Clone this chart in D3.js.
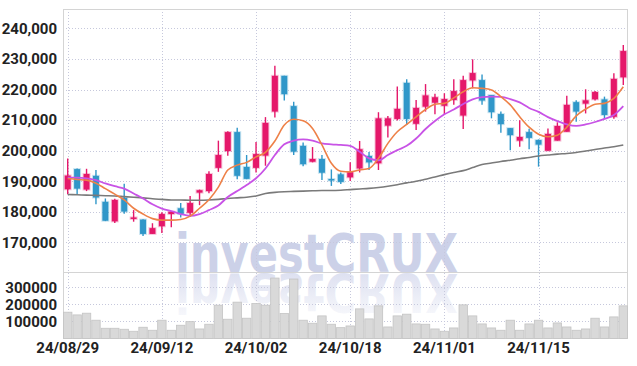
<!DOCTYPE html>
<html>
<head>
<meta charset="utf-8">
<script src="https://cdn.jsdelivr.net/npm/d3@7"></script>
<style>
  body { margin: 0; background: #fff; }
  svg text { font-family: "Liberation Sans Narrow", "Roboto", sans-serif; font-weight: bold; fill: #222; }
</style>
</head>
<body>
<svg id="chart" width="637" height="366"></svg>
<script>
var dates = ['24/08/29','24/08/30','24/09/02','24/09/03','24/09/04','24/09/05','24/09/06','24/09/09','24/09/10','24/09/11',
  '24/09/12','24/09/13','24/09/19','24/09/20','24/09/23','24/09/24','24/09/25','24/09/26','24/09/27','24/09/30',
  '24/10/02','24/10/04','24/10/07','24/10/08','24/10/10','24/10/11','24/10/14','24/10/15','24/10/16','24/10/17',
  '24/10/18','24/10/21','24/10/22','24/10/23','24/10/24','24/10/25','24/10/28','24/10/29','24/10/30','24/10/31',
  '24/11/01','24/11/04','24/11/05','24/11/06','24/11/07','24/11/08','24/11/11','24/11/12','24/11/13','24/11/14',
  '24/11/15','24/11/18','24/11/19','24/11/20','24/11/21','24/11/22','24/11/25','24/11/26','24/11/27','24/11/28']

var open = [187400,194000,187300,191800,183300,176900,184600,177700,177500,172800,
  175300,179300,181200,179700,186300,186800,194400,199900,206100,194700,
  194400,198400,212800,224500,214600,201600,196400,197300,190750,192300,
  191300,194200,198300,195900,208200,210400,222200,208800,214400,215700,
  214700,216600,211500,223000,223100,218200,212000,207400,203300,206100,
  203500,200000,203300,206200,215900,215400,216800,216800,211100,224000]
var high = [197500,194200,194100,193700,184400,184300,189200,180600,177600,176300,
  179900,180300,182900,185200,187300,193300,203300,206400,207500,198600,
  202900,211000,227800,224500,216000,202700,201200,198600,193900,192900,
  196200,203200,199600,212600,211400,221000,223400,216600,221800,218600,
  218800,223400,224500,229900,224900,218200,212800,207400,210000,207200,
  203700,207300,209300,218000,216500,220100,219500,217700,225300,234600]
var low = [185800,185700,186800,182500,177000,176400,179400,176800,172100,172800,
  173100,175000,178200,178300,182200,186100,193100,198400,190700,190700,
  192900,195100,210900,216400,198600,194900,196200,190400,188500,189100,
  190100,192900,193700,193700,204300,209900,208400,206800,212800,211900,
  211900,215000,207100,220400,215000,210600,205900,200200,201300,200500,
  194800,200000,203300,206200,209500,212200,216400,210300,210500,221500]
var close = [191900,187600,192400,184700,177100,183900,180100,178200,172800,174700,
  179300,180100,179300,182900,187100,192400,198600,206100,191800,190800,
  198900,209100,224500,218500,199700,195600,197300,192800,190650,189800,
  193000,200500,196200,210600,210600,213700,210400,214000,218100,217500,
  216900,219500,223100,225400,216400,212600,208700,205100,204500,204200,
  202000,205500,208100,215000,212800,216500,219200,211700,223500,232600]
var volume = [154100,138200,148200,107100,60000,60000,54100,42400,65900,48200,
  107100,48200,77600,98800,55900,83500,195300,112900,212900,118800,
  204700,195300,354100,145900,348200,107100,89400,132400,83500,63500,
  73500,173500,114700,191200,67600,132400,142400,85300,83500,55900,
  42400,61800,197100,132400,85300,61800,48200,107100,48200,85300,
  107100,61800,91200,67600,48200,55900,118800,67600,126500,191200]

// moving averages
var ma5 = [190900,190600,190400,189400,187600,185800,183900,181200,179300,177800,
  177300,177300,177500,178600,181200,184000,188100,193700,195300,196200,
  198000,199500,203200,208400,210300,209800,207300,201900,195900,193300,
  193100,193700,194200,197500,202400,206200,208600,211100,213500,215200,
  215500,217300,219300,220600,220400,219900,217700,215000,211100,207700,
  205400,204600,205100,207700,211400,213600,215200,215500,217100,220900]
var ma20 = [191200,191200,191000,190400,189300,188400,187600,186000,184400,182500,
  181100,180300,179300,178700,179300,180600,182100,184900,186800,188800,
  191000,194200,198600,202100,203300,203700,203300,202400,202100,201900,
  201600,199700,197500,196900,198600,200200,201600,204000,207100,209700,
  211900,213500,215300,216800,217500,217700,217600,216900,215800,214000,
  212700,211000,209700,208600,208100,208600,209400,210400,211700,214600]
var ma60 = [185700,185600,185500,185400,185300,185200,185000,184800,184600,184300,
  184100,183900,183900,183800,183800,183900,184100,184400,184600,184800,
  185200,186000,186400,186600,186700,186800,186900,187000,187000,187100,
  187300,187500,187700,188000,188400,188900,189500,190000,190700,191400,
  192200,192900,193500,194500,195500,196000,196500,196900,197400,197800,
  198300,198600,198900,199100,199400,199900,200400,200900,201300,201900]

var priceTicks = [170000,180000,190000,200000,210000,220000,230000,240000]
var volumeTicks = [100000,200000,300000]
var dateTicks = [0,10,20,30,40,50]

var upColor = '#e5186a', downColor = '#3097c9'
var plotLeft = 63, plotRight = 628, plotTop = 9, split = 272, plotBottom = 338.5

var svg = d3.select('#chart')
var idx = d3.range(dates.length)

var x = d3.scaleBand().domain(idx).range([plotLeft, plotRight])
var hiMax = d3.max(high), loMin = d3.min(low), pad = (hiMax - loMin) * 0.188
var y = d3.scaleLinear().domain([loMin - pad, hiMax + pad]).range([split, plotTop])
var yv = d3.scaleLinear().domain([0, d3.max(volume) * 1.1]).range([plotBottom, split])
var cx = function (i) { return x(i) + x.bandwidth() / 2 }

// watermark + reflection
var defs = svg.append('defs')
var grad = defs.append('linearGradient').attr('id', 'fade').attr('x1', 0).attr('y1', 0).attr('x2', 0).attr('y2', 1)
grad.append('stop').attr('offset', '0%').attr('stop-color', '#d3d7ec').attr('stop-opacity', 0.1)
grad.append('stop').attr('offset', '100%').attr('stop-color', '#d3d7ec').attr('stop-opacity', 0.9)

function watermark(fill, transform) {
  svg.append('text')
    .attr('transform', transform)
    .attr('x', 175).attr('y', split)
    .attr('textLength', 283).attr('lengthAdjust', 'spacingAndGlyphs')
    .style('font-family', '"DejaVu Sans", sans-serif')
    .style('font-size', '53px').style('font-weight', 'bold')
    .style('fill', fill)
    .text('investCRUX')
}
watermark('#ccd1e8', null)
watermark('url(#fade)', 'translate(0,' + (2 * split + 2) + ') scale(1,-1)')

// grid
var grid = svg.append('g').attr('stroke', '#c6c8dc').attr('stroke-dasharray', '1,2').attr('stroke-width', 1)
grid.selectAll('.hp').data(priceTicks).enter().append('line')
  .attr('x1', plotLeft).attr('x2', plotRight)
  .attr('y1', function (d) { return Math.round(y(d)) + 0.5 })
  .attr('y2', function (d) { return Math.round(y(d)) + 0.5 })
grid.selectAll('.hv').data(volumeTicks).enter().append('line')
  .attr('x1', plotLeft).attr('x2', plotRight)
  .attr('y1', function (d) { return Math.round(yv(d)) + 0.5 })
  .attr('y2', function (d) { return Math.round(yv(d)) + 0.5 })
grid.selectAll('.v').data(dateTicks).enter().append('line')
  .attr('x1', function (i) { return Math.round(cx(i)) + 0.5 })
  .attr('x2', function (i) { return Math.round(cx(i)) + 0.5 })
  .attr('y1', plotTop).attr('y2', plotBottom)

// frame
svg.append('rect').attr('x', plotLeft + 0.5).attr('y', plotTop + 0.5)
  .attr('width', plotRight - plotLeft - 1).attr('height', plotBottom - plotTop - 0.5)
  .attr('fill', 'none').attr('stroke', '#d4d4d4')
svg.append('line').attr('x1', plotLeft).attr('x2', plotRight).attr('y1', split + 0.5).attr('y2', split + 0.5)
  .attr('stroke', '#d4d4d4')

// volume bars
svg.append('g').selectAll('rect').data(idx).enter().append('rect')
  .attr('x', function (i) { return x(i) + 0.5 })
  .attr('width', x.bandwidth() - 1)
  .attr('y', function (i) { return yv(volume[i]) })
  .attr('height', function (i) { return yv(0) - yv(volume[i]) })
  .attr('fill', '#d9d9d9').attr('stroke', '#c4c4c4').attr('stroke-width', 0.8)

// candles
var candle = svg.append('g').selectAll('g').data(idx).enter().append('g')
  .attr('stroke', function (i) { return close[i] >= open[i] ? upColor : downColor })
  .attr('fill', function (i) { return close[i] >= open[i] ? upColor : downColor })
candle.append('line')
  .attr('x1', cx).attr('x2', cx)
  .attr('y1', function (i) { return y(high[i]) })
  .attr('y2', function (i) { return y(low[i]) })
  .attr('stroke-width', 1.4)
candle.append('rect')
  .attr('x', function (i) { return cx(i) - 3 })
  .attr('width', 6)
  .attr('y', function (i) { return y(Math.max(open[i], close[i])) })
  .attr('height', function (i) { return Math.max(1.5, Math.abs(y(open[i]) - y(close[i]))) })
  .attr('stroke-opacity', 0.25).attr('stroke-width', 2)

// moving average lines
var line = d3.line().x(function (d, i) { return cx(i) }).y(function (d) { return y(d) }).curve(d3.curveMonotoneX)
svg.append('path').datum(ma60).attr('d', line).attr('fill', 'none').attr('stroke', '#7a7a7a').attr('stroke-width', 1.6)
svg.append('path').datum(ma20).attr('d', line).attr('fill', 'none').attr('stroke', '#c853e6').attr('stroke-width', 1.8)
svg.append('path').datum(ma5).attr('d', line).attr('fill', 'none').attr('stroke', '#ee8148').attr('stroke-width', 1.6)

// axes
var fs = '15px'
var ay = svg.append('g').attr('transform', 'translate(' + plotLeft + ',0)')
  .call(d3.axisLeft(y).tickValues(priceTicks).tickFormat(d3.format(',')).tickSize(0).tickPadding(6))
var av = svg.append('g').attr('transform', 'translate(' + plotLeft + ',0)')
  .call(d3.axisLeft(yv).tickValues(volumeTicks).tickFormat(d3.format('d')).tickSize(0).tickPadding(6))
var ax = svg.append('g').attr('transform', 'translate(0,' + plotBottom + ')')
  .call(d3.axisBottom(x).tickValues(dateTicks).tickFormat(function (i) { return dates[i] }).tickSize(0).tickPadding(4))
;[ay, av, ax].forEach(function (a) {
  a.select('.domain').remove()
  a.selectAll('text').style('font-size', fs).attr('fill', '#222')
})
</script>
</body>
</html>
